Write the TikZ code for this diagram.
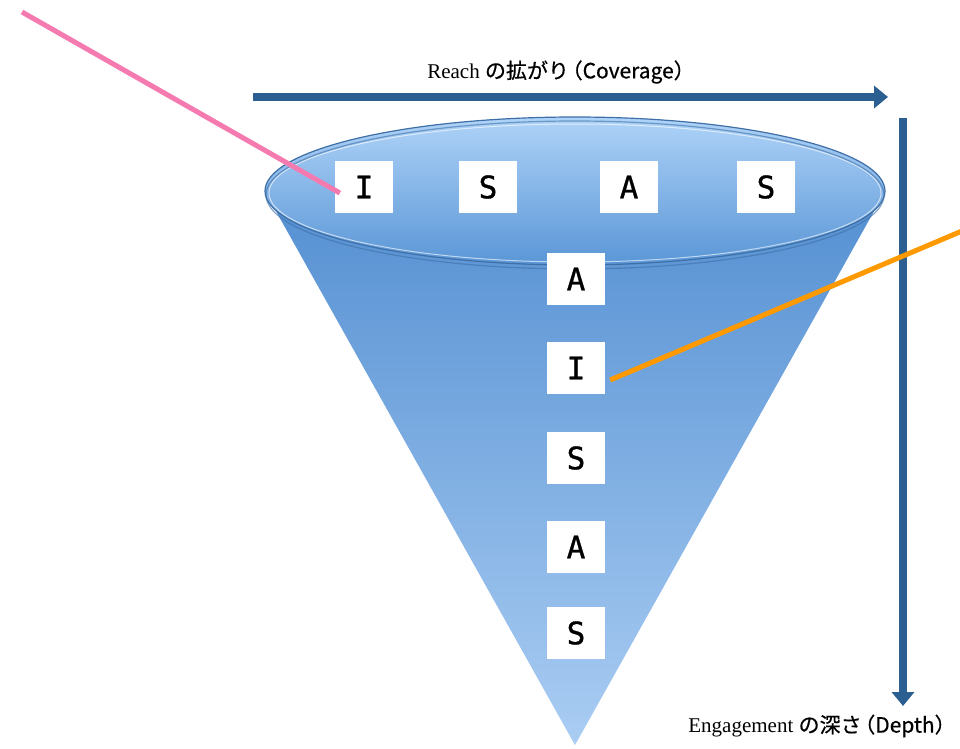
\documentclass[tikz,border=0pt]{standalone}
\usepackage{fontspec}
\setmainfont{Liberation Serif}
\newfontfamily\jpfont[FakeBold=0.6]{Noto Sans CJK JP}
\newfontfamily\boxfont[FakeBold=1]{DejaVu Sans Mono}
\usetikzlibrary{arrows.meta}
\definecolor{arrowblue}{HTML}{2B5E91}
\definecolor{conetop}{HTML}{5590D2}
\definecolor{conebot}{HTML}{AACDF3}
\definecolor{elltop}{HTML}{AFD3F8}
\definecolor{ellbot}{HTML}{5A96D6}
\definecolor{ellrim}{HTML}{3E6FA6}
\definecolor{pinkline}{HTML}{F47AB0}
\definecolor{orangeline}{HTML}{FF9900}
\tikzset{
  letterbox/.style={fill=white, minimum width=58pt, minimum height=52pt, inner sep=0pt, font=\boxfont\fontsize{31}{31}\selectfont},
  axisarrow/.style={draw=arrowblue, line width=8pt, -{Triangle[length=14pt,width=22pt]}},
  axislabel/.style={inner sep=0pt, font=\fontsize{21}{21}\selectfont},
  pointer/.style={line width=5pt}
}
\begin{document}
\begin{tikzpicture}[x=1pt,y=-1pt]
\useasboundingbox (0,0) rectangle (960,748);
% cone
\shade[top color=conetop, bottom color=conebot] (268,197) -- (575,745) -- (882,197) -- cycle;
% top ellipse
\shade[top color=elltop, bottom color=ellbot] (575,191) ellipse [x radius=310, y radius=74];
\draw[ellrim, line width=1.2pt] (575,191) ellipse [x radius=310, y radius=74];
\draw[white, opacity=0.6, line width=1pt] (575,193) ellipse [x radius=306, y radius=69];
\draw[ellrim, opacity=0.6, line width=1.2pt] (575,195) ellipse [x radius=309, y radius=74];
% boxes
\node[letterbox] (I1) at (364,187) {I};
\node[letterbox] (S1) at (488,187) {S};
\node[letterbox] (A1) at (629,187) {A};
\node[letterbox] (S2) at (766,187) {S};
\node[letterbox] (A2) at (576,279) {A};
\node[letterbox] (I2) at (576,368) {I};
\node[letterbox] (S3) at (576,458) {S};
\node[letterbox] (A3) at (576,547) {A};
\node[letterbox] (S4) at (576,633) {S};
% axes
\coordinate (hstart) at (253,97);
\coordinate (hend) at (888,97);
\coordinate (vstart) at (903,118);
\coordinate (vend) at (903,706);
\draw[axisarrow] (hstart) -- (hend);
\draw[axisarrow] (vstart) -- (vend);
\node[axislabel] (reach) at (561,72) {Reach {\jpfont の拡がり\kern-0.35em（Coverage）}};
\node[axislabel] (engage) at (822,726) {Engagement {\jpfont の深さ\kern-0.35em（Depth）}};
% pointers
\coordinate (pinkstart) at (22,12);
\coordinate (orangestart) at (962,231);
\draw[pointer, pinkline] (pinkstart) -- ([xshift=5pt,yshift=-6pt]I1.west);
\draw[pointer, orangeline] (orangestart) -- ([xshift=5pt,yshift=-12pt]I2.east);
\end{tikzpicture}
\end{document}
